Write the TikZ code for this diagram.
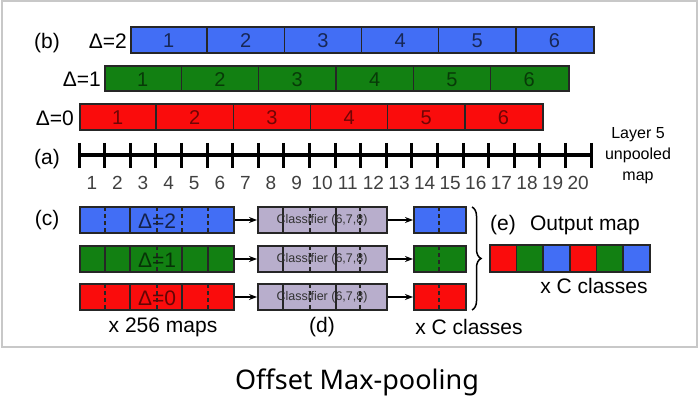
\documentclass[tikz,border=0pt]{standalone}
\usepackage{fontspec}
\setmainfont{Liberation Sans}
\newfontfamily\capfont{Noto Sans}
\usetikzlibrary{decorations.pathreplacing,arrows.meta}
\definecolor{cblue}{RGB}{66,110,245}
\definecolor{cgreen}{RGB}{18,128,18}
\definecolor{cred}{RGB}{250,12,12}
\definecolor{clav}{RGB}{184,174,204}
\definecolor{framegray}{RGB}{200,200,200}
\tikzset{
  bar/.style={draw=black!85, line width=1.8, inner sep=0, anchor=west},
  lbl/.style={font=\fontsize{21}{25}\selectfont, inner sep=0},
  digit/.style={font=\fontsize{20}{24}\selectfont, inner sep=0},
  num/.style={font=\fontsize{19}{22}\selectfont, text=black!75, inner sep=0},
  cls/.style={font=\fontsize{12.5}{14}\selectfont, text=black!80, inner sep=0},
  divs/.style={line width=1.5, draw=black!85},
  divd/.style={line width=1.5, draw=black!85, dash pattern=on 4pt off 3pt},
  arr/.style={-{Stealth[length=8pt,width=6pt]}, line width=1.5},
}
\begin{document}
\begin{tikzpicture}[x=1pt,y=-1pt]
\useasboundingbox (0,0) rectangle (700,414);
\fill[white] (0,0) rectangle (700,414);
\draw[framegray, line width=1.5] (2,1) rectangle (697,347);

% (b) pooled bars
\node[bar, fill=cblue, minimum width=463, minimum height=26] (b2) at (130,40) {};
\node[bar, fill=cgreen, minimum width=464, minimum height=25] (b1) at (104,78.5) {};
\node[bar, fill=cred, minimum width=463, minimum height=26] (b0) at (79,117) {};
\foreach \i in {1,...,5} {
  \draw[divs] (130+77.17*\i,27) -- ++(0,26);
  \draw[divs] (104+77.33*\i,66) -- ++(0,25);
  \draw[divs] (79+77.17*\i,104) -- ++(0,26);
}
\foreach \i in {1,...,6} {
  \node[digit, text=cblue!35!black] at (130+77.17*\i-38.6,41) {\i};
  \node[digit, text=cgreen!45!black] at (104+77.33*\i-38.7,79.5) {\i};
  \node[digit, text=cred!45!black] at (79+77.17*\i-38.6,118) {\i};
}
\node[lbl] (lb) at (47,43) {(b)};
\node[lbl, anchor=east] (d2) at (127,41) {Δ=2};
\node[lbl, anchor=east] (d1) at (101,79.5) {Δ=1};
\node[lbl, anchor=east] (d0) at (74,118) {Δ=0};

% (a) axis
\node[lbl] (la) at (47,159) {(a)};
\coordinate (axl) at (79,155);
\coordinate (axr) at (591,155);
\draw[line width=3.5] (axl) -- (axr);
\foreach \i in {0,...,20} \draw[line width=3] (79+25.6*\i,143) -- ++(0,25);
\foreach \i in {1,...,20} \node[num] at (79+25.6*\i-12.8,183) {\i};
\node[align=center, font=\fontsize{16}{21}\selectfont, inner sep=0] (lay) at (638,156) {Layer 5\\unpooled\\map};

% (c) rows
\node[lbl] (lc) at (47,220) {(c)};
\node[bar, fill=cblue, minimum width=154, minimum height=26] (c2) at (79,220) {};
\node[bar, fill=cgreen, minimum width=154, minimum height=26] (c1) at (79,259) {};
\node[bar, fill=cred, minimum width=154, minimum height=26] (c0) at (79,297) {};
% blue dividers
\draw[divd] (105,207) -- ++(0,26);
\draw[divs] (130,207) -- ++(0,26);
\draw[divd] (157,207) -- ++(0,26);
\draw[divd] (182,207) -- ++(0,26);
\draw[divd] (208,207) -- ++(0,26);
% green dividers
\draw[divs] (105,246) -- ++(0,26);
\draw[divs] (130,246) -- ++(0,26);
\draw[divd] (157,246) -- ++(0,26);
\draw[divs] (182,246) -- ++(0,26);
\draw[divs] (208,246) -- ++(0,26);
% red dividers
\draw[divd] (105,284) -- ++(0,26);
\draw[divs] (130,284) -- ++(0,26);
\draw[divd] (157,284) -- ++(0,26);
\draw[divs] (182,284) -- ++(0,26);
\draw[divd] (208,284) -- ++(0,26);
\node[lbl, text=cblue!30!black] at (157,221) {Δ=2};
\node[lbl, text=cgreen!40!black] at (157,260) {Δ=1};
\node[lbl, text=cred!40!black] at (157,298) {Δ=0};

% classifiers
\foreach \n/\y in {k2/220,k1/259,k0/297} {
  \node[bar, fill=clav, minimum width=129, minimum height=26] (\n) at (257,\y) {};
  \draw[divs] (283,\y-13) -- ++(0,26);
  \draw[divd] (310,\y-13) -- ++(0,26);
  \draw[divs] (336,\y-13) -- ++(0,26);
  \draw[divd] (360,\y-13) -- ++(0,26);
  \node[cls] at (322,\y) {Classifier (6,7,8)};
}

% outputs
\node[bar, fill=cblue, minimum width=52, minimum height=26] (o2) at (413,220) {};
\node[bar, fill=cgreen, minimum width=52, minimum height=26] (o1) at (413,259) {};
\node[bar, fill=cred, minimum width=52, minimum height=26] (o0) at (413,297) {};
\foreach \y in {220,259,297} \draw[divd] (439,\y-13) -- ++(0,26);

\draw[arr] (c2) -- (k2);
\draw[arr] (c1) -- (k1);
\draw[arr] (c0) -- (k0);
\draw[arr] (k2) -- (o2);
\draw[arr] (k1) -- (o1);
\draw[arr] (k0) -- (o0);

% brace
\coordinate (bt) at (472,207);
\coordinate (bb) at (472,310);
\draw[line width=1.5, decorate, decoration={brace, amplitude=9pt}] (bt) -- (bb);

% (e) output map
\node[lbl] (le) at (503,225) {(e)};
\node[lbl] (om) at (585,225) {Output map};
\foreach \i/\c in {0/cred,1/cgreen,2/cblue,3/cred,4/cgreen,5/cblue} {
  \node[bar, fill=\c, minimum width=26.67, minimum height=27] (m\i) at (489+26.67*\i,258.5) {};
}
\node[lbl] (xc2) at (594,286) {x C classes};

\node[lbl] (x256) at (163,327) {x 256 maps};
\node[lbl] (ld) at (322,327) {(d)};
\node[lbl] (xc1) at (469,327) {x C classes};

\node[font=\capfont\fontsize{27}{32}\selectfont, inner sep=0] (cap) at (357,382) {Offset Max-pooling};
\end{tikzpicture}
\end{document}
